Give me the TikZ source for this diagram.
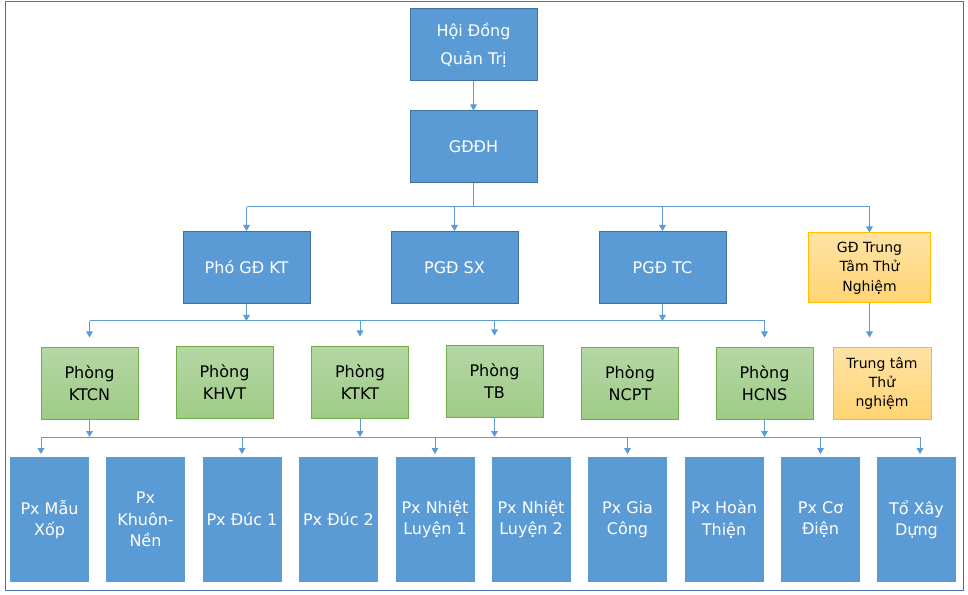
\documentclass[tikz,border=0pt]{standalone}
\usepackage{fontspec}
\setmainfont{DejaVu Sans}
\usetikzlibrary{arrows.meta}
\definecolor{boxblue}{HTML}{5B9BD5}
\definecolor{edgeblue}{HTML}{41719C}
\definecolor{linkblue}{HTML}{5B9BD5}
\definecolor{framecol}{HTML}{4A6DAE}
\definecolor{greentop}{HTML}{B4D7A4}
\definecolor{greenbot}{HTML}{9FCB87}
\definecolor{greenedge}{HTML}{70AD47}
\definecolor{yeltop}{HTML}{FFE2A4}
\definecolor{yelbot}{HTML}{FFD473}
\definecolor{yeledge}{HTML}{FFC000}
\begin{document}
\begin{tikzpicture}[x=0.75pt,y=-0.75pt,
  chief/.style={fill=boxblue,draw=edgeblue,line width=0.75pt,text=white,minimum width=95.25pt,minimum height=54pt,align=center,inner sep=0pt,font=\fontsize{12}{16}\selectfont},
  dept/.style={top color=greentop,bottom color=greenbot,draw=greenedge,line width=0.75pt,minimum width=72.75pt,minimum height=53.25pt,align=center,inner sep=0pt,font=\fontsize{12}{16.5}\selectfont},
  lab/.style={top color=yeltop,bottom color=yelbot,draw=yeledge,line width=0.75pt,align=center,inner sep=0pt,font=\fontsize{10.5}{14.5}\selectfont},
  shop/.style={fill=boxblue,text=white,minimum width=59.25pt,minimum height=93.75pt,align=center,inner sep=0pt,font=\fontsize{12}{16}\selectfont},
  link/.style={draw=linkblue,line width=0.75pt},
  feed/.style={link,-{Triangle[width=5pt,length=4.5pt]}}]
\useasboundingbox (0,0) rectangle (968,595);
\draw[draw=framecol,line width=0.75pt] (5,2) rectangle (963,590);
\node[chief] (hdqt) at (473.5,45) {Hội Đồng\\[5pt]Quản Trị};
\node[chief] (gddh) at (473.5,147) {GĐĐH};
\node[chief] (pgdkt) at (246.5,267.5) {Phó GĐ KT};
\node[chief] (pgdsx) at (454.5,267.5) {PGĐ SX};
\node[chief] (pgdtc) at (662.5,267.5) {PGĐ TC};
\node[lab,minimum width=91.5pt,minimum height=52.5pt] (gdtt) at (869.5,268) {GĐ Trung\\Tâm Thử\\Nghiệm};
\node[dept] (ktcn) at (89.5,383.5) {Phòng\\KTCN};
\node[dept] (khvt) at (224.5,382.5) {Phòng\\KHVT};
\node[dept] (ktkt) at (360,382.5) {Phòng\\KTKT};
\node[dept] (tb) at (494.5,381.5) {Phòng\\TB};
\node[dept] (ncpt) at (630,383.5) {Phòng\\NCPT};
\node[dept] (hcns) at (764.5,383.5) {Phòng\\HCNS};
\node[lab,minimum width=73.5pt,minimum height=53.25pt] (tt) at (882,383.5) {Trung tâm\\Thử\\nghiệm};
\node[shop] (px1) at (49.5,519.5) {Px Mẫu\\Xốp};
\node[shop] (px2) at (145.5,519.5) {Px\\Khuôn-\\Nền};
\node[shop] (px3) at (242,519.5) {Px Đúc 1};
\node[shop] (px4) at (338.5,519.5) {Px Đúc 2};
\node[shop] (px5) at (435,519.5) {Px Nhiệt\\Luyện 1};
\node[shop] (px6) at (531,519.5) {Px Nhiệt\\Luyện 2};
\node[shop] (px7) at (627.5,519.5) {Px Gia\\Công};
\node[shop] (px8) at (724,519.5) {Px Hoàn\\Thiện};
\node[shop] (px9) at (820.5,519.5) {Px Cơ\\Điện};
\node[shop] (px10) at (916.5,519.5) {Tổ Xây\\Dựng};
\coordinate (bus1) at (0,207);
\coordinate (bus2) at (0,321);
\coordinate (bus3) at (0,437);
\coordinate (left3) at (41,437);
\coordinate (right3) at (920,437);
\draw[feed] (hdqt) -- (gddh);
\draw[link] (gddh.south) -- (gddh.south |- bus1);
\draw[link] (pgdkt.north |- bus1) -- (gdtt.north |- bus1);
\draw[feed] (pgdkt.north |- bus1) -- (pgdkt.north);
\draw[feed] (pgdsx.north |- bus1) -- (pgdsx.north);
\draw[feed] (pgdtc.north |- bus1) -- (pgdtc.north);
\draw[feed] (gdtt.north |- bus1) -- (gdtt.north);
\draw[feed,shorten >=7.5pt] (gdtt.south) -- (gdtt.south |- tt.north);
\draw[feed] (pgdkt.south) -- (pgdkt.south |- bus2);
\draw[feed] (pgdtc.south) -- (pgdtc.south |- bus2);
\draw[link] (ktcn.north |- bus2) -- (hcns.north |- bus2);
\draw[feed,shorten >=7.5pt] (ktcn.north |- bus2) -- (ktcn.north);
\draw[feed,shorten >=7.5pt] (ktkt.north |- bus2) -- (ktkt.north);
\draw[feed,shorten >=7.5pt] (tb.north |- bus2) -- (tb.north);
\draw[feed,shorten >=7.5pt] (hcns.north |- bus2) -- (hcns.north);
\draw[feed] (ktcn.south) -- (ktcn.south |- bus3);
\draw[feed] (ktkt.south) -- (ktkt.south |- bus3);
\draw[feed] (tb.south) -- (tb.south |- bus3);
\draw[feed] (hcns.south) -- (hcns.south |- bus3);
\draw[link] (left3) -- (right3);
\draw[feed,shorten >=2pt] (left3) -- (left3 |- px1.north);
\draw[feed,shorten >=2pt] (px3.north |- bus3) -- (px3.north);
\draw[feed,shorten >=2pt] (px5.north |- bus3) -- (px5.north);
\draw[feed,shorten >=2pt] (px7.north |- bus3) -- (px7.north);
\draw[feed,shorten >=2pt] (px9.north |- bus3) -- (px9.north);
\draw[feed,shorten >=2pt] (right3) -- (right3 |- px10.north);
\end{tikzpicture}
\end{document}
